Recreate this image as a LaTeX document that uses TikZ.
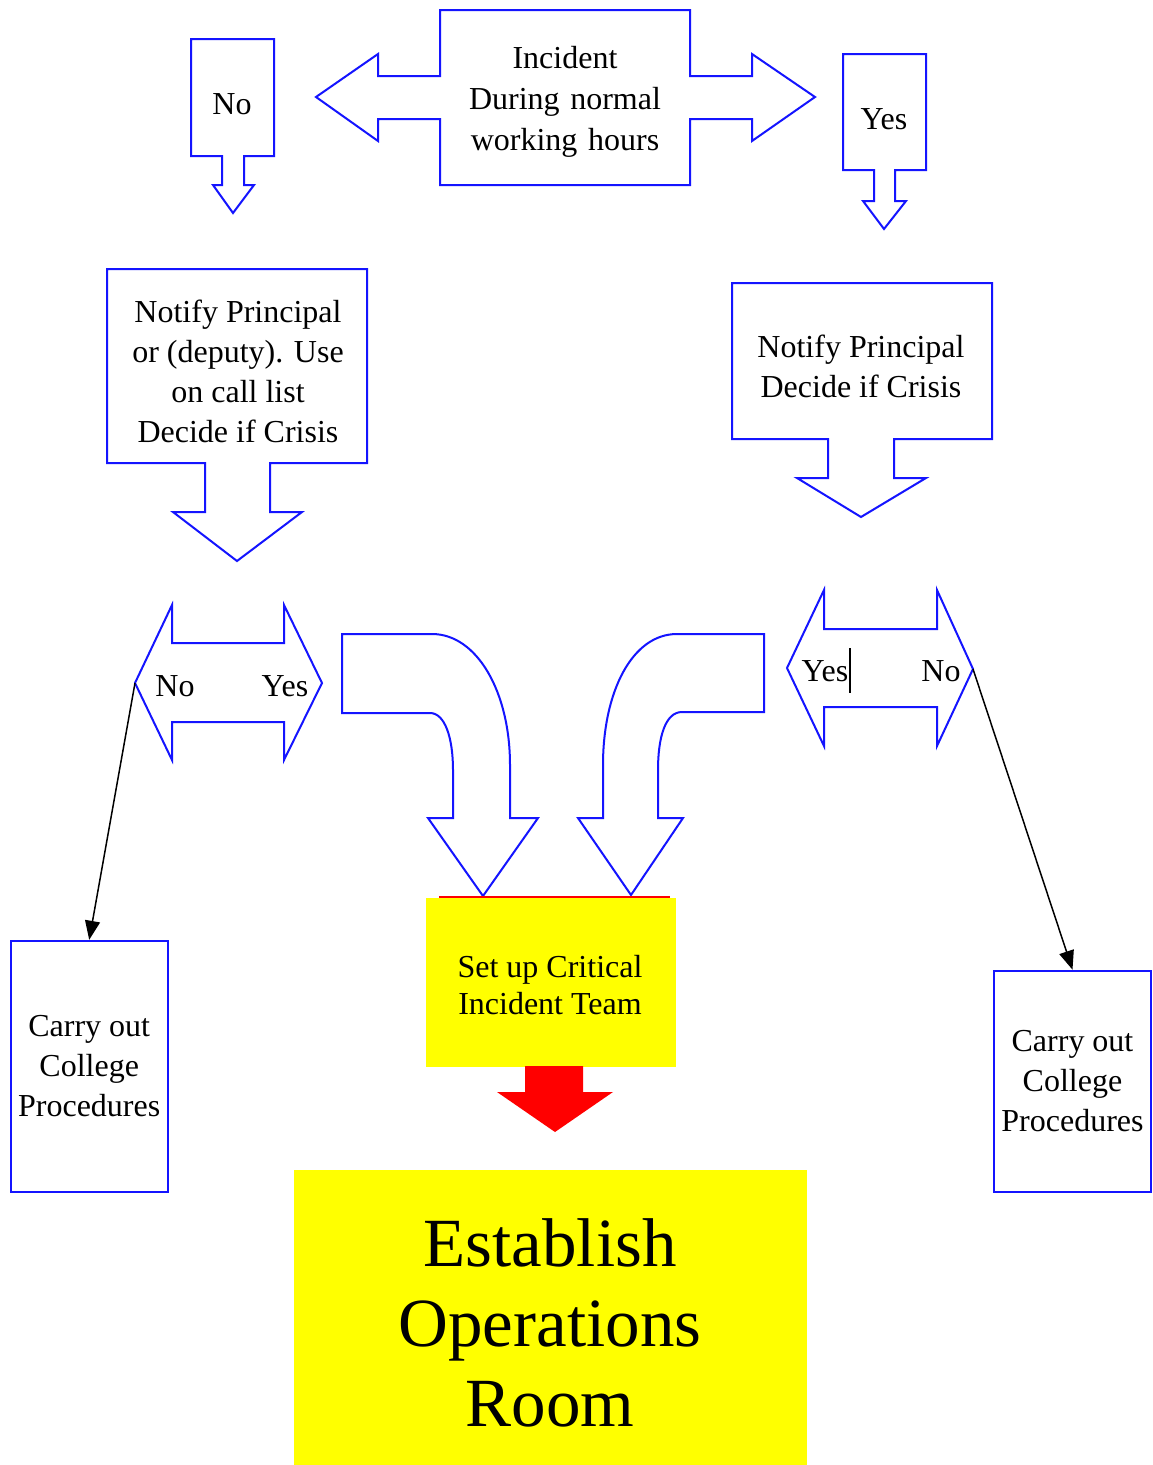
\documentclass[tikz,border=0pt]{standalone}
\usepackage{fontspec}
\setmainfont{Liberation Serif}
\usetikzlibrary{arrows.meta}
\definecolor{lineblue}{RGB}{20,20,255}
\definecolor{hiyellow}{RGB}{255,255,0}
\definecolor{hired}{RGB}{255,0,0}
\begin{document}
\begin{tikzpicture}[x=1pt,y=-1pt,
  shapeline/.style={draw=lineblue, line width=2pt, line join=miter},
  txt/.style={font=\fontsize{32}{40}\selectfont, align=center, inner sep=0pt, text=black},
  boxnode/.style={draw=lineblue, line width=2pt, inner sep=0pt, font=\fontsize{32}{40}\selectfont, align=center},
  conn/.style={draw=black, line width=1.5pt, -{Triangle[length=19pt,width=15pt]}}]
\useasboundingbox (0,0) rectangle (1152,1465);
\fill[white] (0,0) rectangle (1152,1465);

% top centre double arrow callout
\draw[shapeline] (440,10) -- (690,10) -- (690,76) -- (752,76) -- (752,54) -- (815,97) -- (752,141) -- (752,119) -- (690,119) -- (690,185) -- (440,185) -- (440,119) -- (378,119) -- (378,141) -- (316,97) -- (378,54) -- (378,76) -- (440,76) -- cycle;
\node[txt, text width=240pt, font=\fontsize{32}{41}\selectfont] (incident) at (565,102) {Incident\\During normal\\working hours};

% No callout
\draw[shapeline] (191,39) -- (274,39) -- (274,156) -- (244,156) -- (244,185) -- (254,185) -- (233,213) -- (213,185) -- (222,185) -- (222,156) -- (191,156) -- cycle;
\node[txt] (topno) at (232,104) {No};

% Yes callout
\draw[shapeline] (843,54) -- (926,54) -- (926,170) -- (895,170) -- (895,201) -- (906,201) -- (884,229) -- (863,201) -- (874,201) -- (874,170) -- (843,170) -- cycle;
\node[txt] (topyes) at (884,119) {Yes};

% left notify callout
\draw[shapeline] (107,269) -- (367,269) -- (367,463) -- (270,463) -- (270,512) -- (302,512) -- (237,561) -- (173,512) -- (205,512) -- (205,463) -- (107,463) -- cycle;
\node[txt] (notifyL) at (238,371) {Notify Principal\\or (deputy). Use\\on call list\\Decide if Crisis};

% right notify callout
\draw[shapeline] (732,283) -- (992,283) -- (992,439) -- (894,439) -- (894,478) -- (926,478) -- (861,517) -- (797,478) -- (828,478) -- (828,439) -- (732,439) -- cycle;
\node[txt] (notifyR) at (861,366) {Notify Principal\\Decide if Crisis};

% left double arrow
\draw[shapeline] (135,683) -- (172,605) -- (172,643) -- (284,643) -- (284,605) -- (322,683) -- (284,760) -- (284,722) -- (172,722) -- (172,760) -- cycle;
\coordinate (lNo) at (135,683);
\node[txt] (dlno) at (175,686) {No};
\node[txt] (dlyes) at (285,686) {Yes};

% right double arrow
\draw[shapeline] (787,668) -- (824,590) -- (824,629) -- (937,629) -- (937,590) -- (973,669) -- (937,746) -- (937,707) -- (824,707) -- (824,746) -- cycle;
\coordinate (rNo) at (973,669);
\node[txt] (dryes) at (825,671) {Yes};
\node[txt] (drno) at (941,671) {No};
\draw[black, line width=1.5pt] (850,648) -- (850,693);

% bent arrows
\draw[shapeline] (342,634) -- (432,634) .. controls (477,634) and (510,692) .. (510,765) -- (510,818) -- (538,818) -- (483,896) -- (428,818) -- (453,818) -- (453,770) .. controls (453,738) and (445,713) .. (430,713) -- (342,713) -- cycle;
\draw[shapeline] (764,634) -- (677,634) .. controls (632,634) and (603,692) .. (603,765) -- (603,818) -- (578,818) -- (631,895) -- (683,818) -- (658,818) -- (658,770) .. controls (658,738) and (665,712) .. (682,712) -- (764,712) -- cycle;

% critical incident team
\draw[hired, line width=2pt] (439,896.5) -- (670,896.5);
\fill[hiyellow] (426,898) rectangle (676,1067);
\node[txt, font=\fontsize{32}{37}\selectfont] (team) at (550,985) {Set up Critical\\Incident Team};

% red arrow
\fill[hired] (525,1066) -- (583,1066) -- (583,1092) -- (613,1092) -- (555,1132) -- (497,1092) -- (525,1092) -- cycle;

% operations room
\fill[hiyellow] (294,1170) rectangle (807,1465);
\node[txt, font=\fontsize{69}{80}\selectfont] (ops) at (550,1323) {Establish\\Operations\\Room};

% carry out boxes
\node[boxnode, minimum width=157pt, minimum height=251pt] (carryL) at (89.2,1066.3) {Carry out\\College\\Procedures};
\node[boxnode, minimum width=157pt, minimum height=221pt] (carryR) at (1072.5,1081.2) {Carry out\\College\\Procedures};

% connectors
\draw[conn] (lNo) -- (carryL.north);
\draw[conn] (rNo) -- (carryR.north);
\end{tikzpicture}
\end{document}
